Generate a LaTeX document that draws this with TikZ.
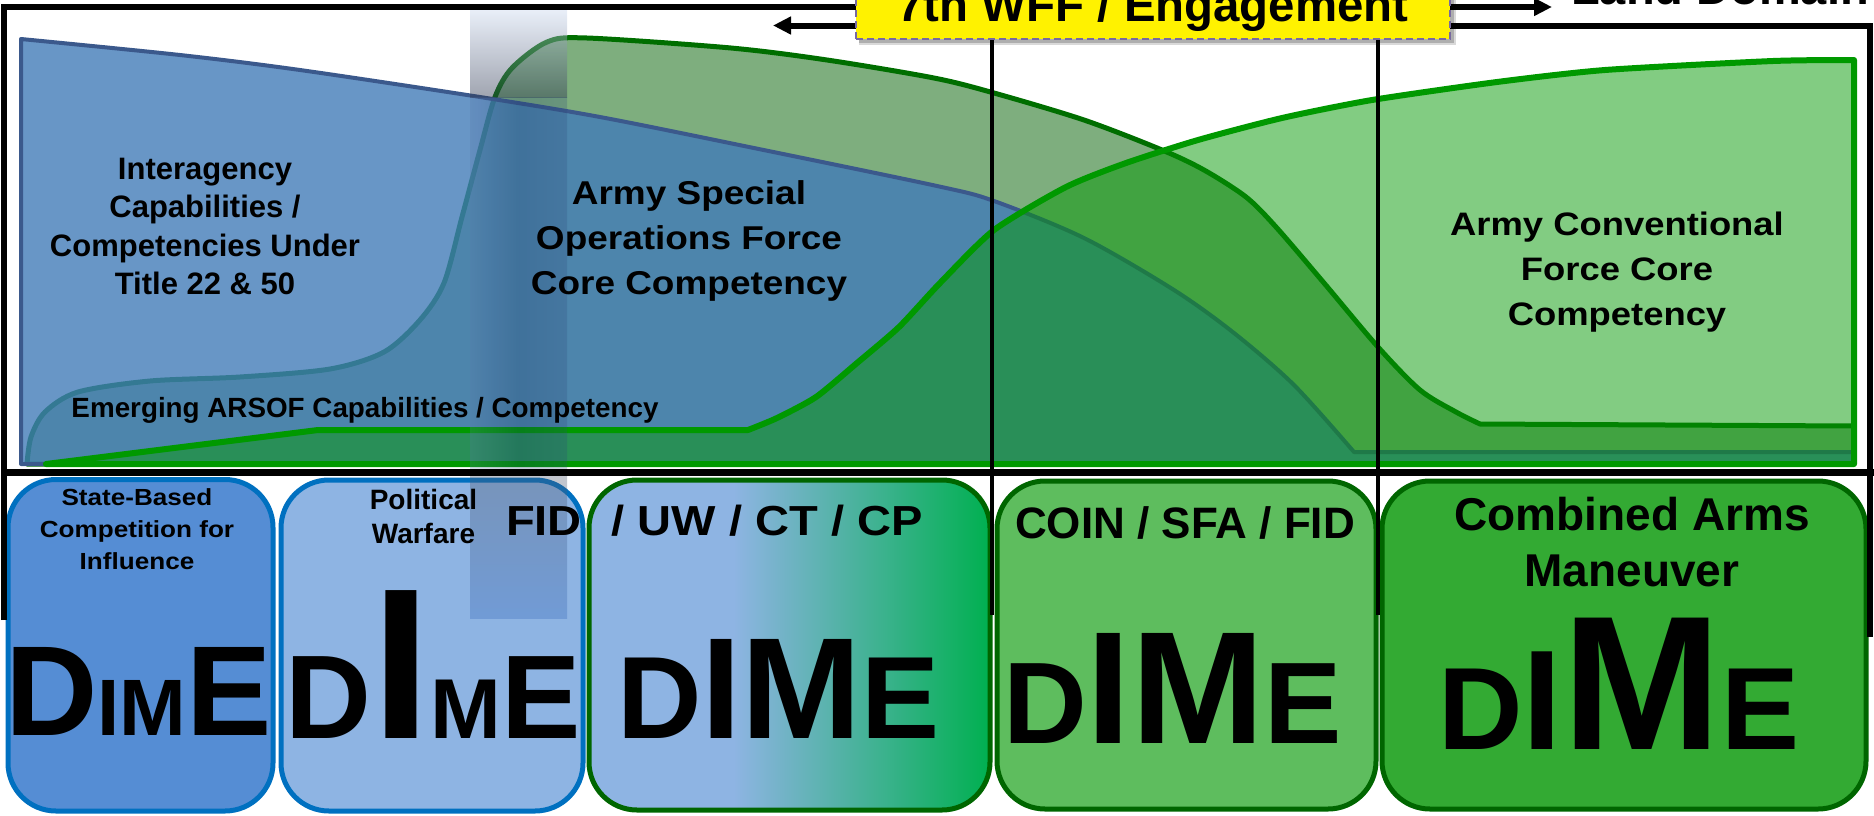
\documentclass[tikz,border=0pt]{standalone}
\usepackage{fontspec}
\setmainfont{Liberation Sans}
\newfontfamily\widefont[FakeStretch=1.12]{Liberation Sans}
\usetikzlibrary{arrows.meta}
\newcommand\bsz[2]{\fontsize{#1}{#2}\selectfont\bfseries}
\definecolor{sofg}{RGB}{40,120,40}
\definecolor{sofline}{RGB}{0,110,0}
\definecolor{iablue}{RGB}{66,124,184}
\definecolor{ialine}{RGB}{59,89,140}
\definecolor{cfg}{RGB}{5,153,5}
\definecolor{cfline}{RGB}{0,153,0}
\definecolor{boxA}{RGB}{85,141,212}
\definecolor{boxB}{RGB}{142,180,227}
\definecolor{boxG}{RGB}{0,176,80}
\definecolor{boxC}{RGB}{94,189,94}
\definecolor{boxD}{RGB}{51,170,51}
\definecolor{blueedge}{RGB}{0,112,192}
\definecolor{greenedge}{RGB}{0,102,0}
\definecolor{stripL}{RGB}{90,120,170}
\definecolor{stripM}{RGB}{25,55,105}
\definecolor{stripR}{RGB}{45,75,125}
\definecolor{striptop}{RGB}{205,218,240}
\definecolor{stripgray}{RGB}{45,55,80}
\definecolor{striplow}{RGB}{80,90,110}
\definecolor{stripblue}{RGB}{60,110,190}
\definecolor{dashcol}{RGB}{120,105,160}
\pgfdeclarehorizontalshading{fuwshade}{100bp}{color(0bp)=(boxB); color(43bp)=(boxB); color(75bp)=(boxG); color(100bp)=(boxG)}
\begin{document}
\begin{tikzpicture}[x=1pt, y=-1pt,
  sofarea/.style={fill=sofg, fill opacity=0.6, draw=sofline, line width=5pt, line join=round},
  iaarea/.style={fill=iablue, fill opacity=0.8, draw=ialine, line width=4pt, line join=round},
  cfarea/.style={fill=cfg, fill opacity=0.5, draw=cfline, line width=6pt, line join=round},
  dbox/.style={rounded corners=48pt, line width=5pt, inner sep=0pt},
  lab/.style={inner sep=0pt, text=black, align=center},
  word/.style={inner sep=0pt, anchor=base west, text=black},
  frameline/.style={line width=6pt, black},
  tipped/.style={-{Triangle[length=18pt,width=17pt]}},
  divider/.style={line width=4.5pt, black},
  wffbox/.style={draw=dashcol, dash pattern=on 7pt off 4pt, line width=2pt, fill=yellow,
    minimum width=594pt, minimum height=58.4pt, inner sep=0pt, font=\bsz{47.4}{50}}]
\useasboundingbox (0,0) rectangle (1874,815);

% ---- chart areas ----
\filldraw[sofarea] plot[smooth, tension=0.5] coordinates {(27,464) (31,437) (45,412) (78,392) (150,381) (240,377) (330,369) (384,352) (420,320) (444,283) (462,217) (480,150) (495,97) (512,68) (547,42) (587,38) (731,48) (827,60) (934,78) (994,93) (1084,120) (1162,150) (1204,170) (1246,197) (1276,227) (1324,283) (1378,347) (1420,390) (1456,412) (1480,424)} -- (1854,426) -- (1854,464) -- cycle;
\filldraw[iaarea] plot[smooth, tension=0.5] coordinates {(21,39) (180,55) (300,70) (480,97) (600,117) (749,147) (937,186) (994,201) (1084,238) (1174,290) (1234,333) (1294,385) (1354,452)} -- (1854,452) -- (1854,464) -- (21,464) -- cycle;
\filldraw[cfarea] (46,464) -- (318,430) -- (748,430) -- plot[smooth, tension=0.4] coordinates {(748,430) (777,418) (816,397) (857,363) (899,327) (940,283) (994,230) (1066,187) (1126,163) (1198,140) (1282,118) (1372,100) (1497,82) (1605,70) (1773,61) (1854,60)} -- (1854,464) -- cycle;

% ---- bottom boxes ----
\node[dbox, draw=blueedge, fill=boxA, minimum width=265pt, minimum height=331.5pt] (b1) at (140.5,645.25) {};
\node[dbox, draw=blueedge, fill=boxB, minimum width=302pt, minimum height=331pt] (b2) at (432,645.5) {};
\node[dbox, draw=greenedge, shade, shading=fuwshade, minimum width=401pt, minimum height=330pt] (b3) at (789.5,645) {};
\node[dbox, draw=greenedge, fill=boxC, minimum width=379pt, minimum height=328pt] (b4) at (1186.5,645) {};
\node[dbox, draw=greenedge, fill=boxD, minimum width=484pt, minimum height=328pt] (b5) at (1624,645) {};

% ---- vertical translucent strip ----
\shade[top color=striptop, bottom color=stripgray, opacity=0.45] (470,10) rectangle (567,97);
\shade[left color=stripL, right color=stripR, middle color=stripM, opacity=0.25] (470,97) rectangle (567,470);
\shade[top color=striplow, bottom color=stripblue, opacity=0.35] (470,474) rectangle (567,618);

% ---- frame brackets and lines ----
\coordinate (fl0) at (4,620);
\coordinate (fl1) at (4,7);
\coordinate (fl2) at (1552,7);
\coordinate (fr0) at (1870,637);
\coordinate (fr1) at (1870,25.5);
\coordinate (fr2) at (773,25.5);
\coordinate (bl0) at (2,472);
\coordinate (bl1) at (1874,472);
\draw[frameline, tipped] (fl0) -- (fl1) -- (fl2);
\draw[frameline, tipped] (fr0) -- (fr1) -- (fr2);
\draw[line width=7pt, black] (bl0) -- (bl1);

% ---- yellow title box ----
\fill[black, opacity=0.15] (859,-20) rectangle (1456,45);
\fill[black, opacity=0.2] (859,-20) rectangle (1454,43);
\node[wffbox] (wff) at (1153,9.8) {7th WFF / Engagement};
\node[word, font=\bsz{47}{50}] (land) at (1571,4.5) {Land Domain};

\coordinate (v1) at (992,615);
\coordinate (v2) at (1378,615);
\draw[divider] (wff.south -| v1) -- (v1);
\draw[divider] (wff.south -| v2) -- (v2);

% ---- chart labels ----
\node[lab, font=\bsz{31}{38.3}] (tia) at (205,226.5) {Interagency\\Capabilities /\\Competencies Under\\Title 22 \& 50};
\node[lab, font={\widefont\bsz{33}{45}}] (tsof) at (689,240.6) {Army Special\\Operations Force\\Core Competency};
\node[lab, font={\widefont\bsz{32.5}{45}}] (tcf) at (1617,271.7) {Army Conventional\\Force Core\\Competency};
\node[lab, anchor=base, font=\bsz{27.8}{30}] (temg) at (365,417) {Emerging ARSOF Capabilities / Competency};

% ---- box labels ----
\node[lab, font={\widefont\bsz{23.3}{32}}] (t1) at (137,528.8) {State-Based\\Competition for\\Influence};
\node[lab, font=\bsz{28}{33.3}] (t2) at (423.5,516.6) {Political\\Warfare};
\node[lab, anchor=base, font={\widefont\bsz{42}{48}}] (t3a) at (544,535) {FID};
\node[lab, anchor=base, font={\widefont\bsz{42}{48}}] (t3b) at (767,535) {/ UW / CT / CP};
\node[lab, anchor=base, font=\bsz{44}{50}] (t4) at (1185,538) {COIN / SFA / FID};
\node[lab, font=\bsz{46}{56.7}] (t5) at (1632,542) {Combined Arms\\Maneuver};

% ---- DIME letters ----
\node[word, font=\bfseries] (d1) at (5,735) {\fontsize{128}{128}\selectfont D\fontsize{80}{80}\selectfont IM\fontsize{128}{128}\selectfont E};
\node[word, font=\bfseries] (d2) at (285,738) {\fontsize{119}{119}\selectfont D\fontsize{215}{215}\selectfont I\fontsize{85}{85}\selectfont M\fontsize{119}{119}\selectfont E};
\node[word, font=\bfseries] (d3) at (617,738) {\fontsize{117}{117}\selectfont D\fontsize{144}{144}\selectfont IM\fontsize{117}{117}\selectfont E};
\node[word, font=\bfseries] (d4) at (1003,743) {\fontsize{116}{116}\selectfont D\fontsize{160}{160}\selectfont IM\fontsize{116}{116}\selectfont E};
\node[word, font=\bfseries] (d5) at (1438,749) {\fontsize{117}{117}\selectfont D\fontsize{142}{142}\selectfont I\fontsize{191}{191}\selectfont M\fontsize{117}{117}\selectfont E};
\end{tikzpicture}
\end{document}
